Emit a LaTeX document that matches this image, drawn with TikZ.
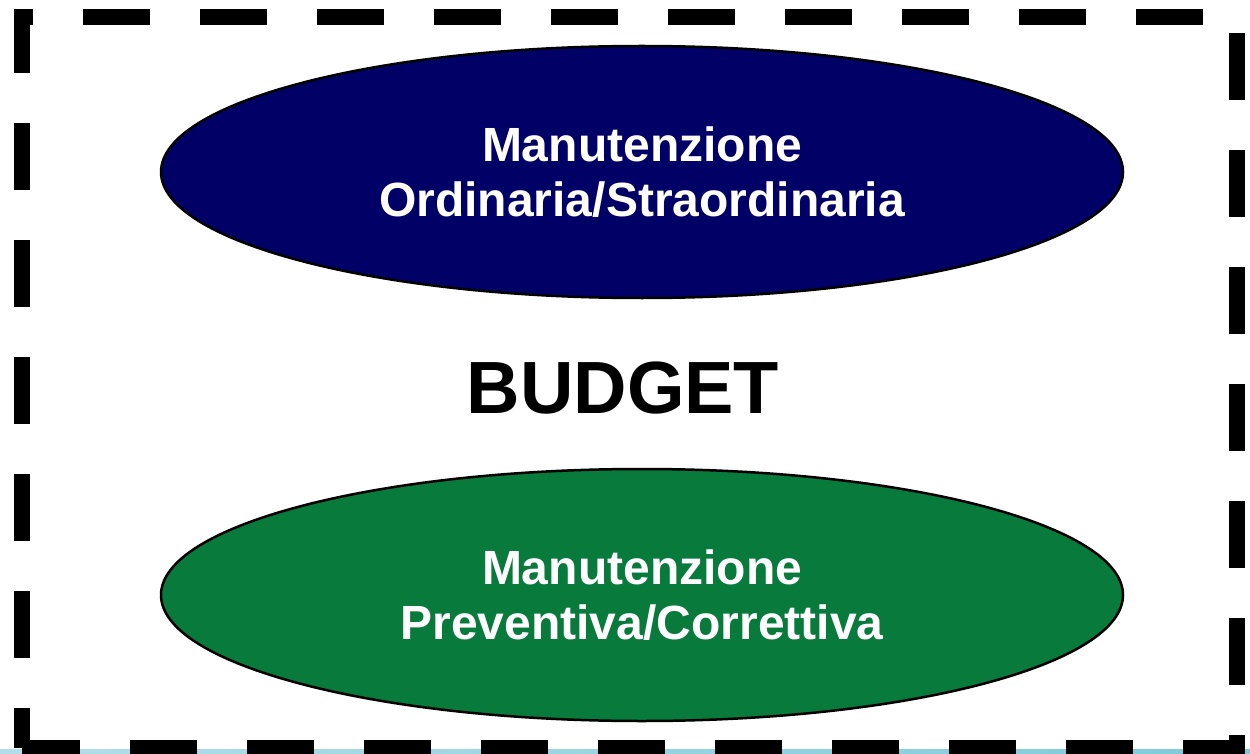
\documentclass[tikz,border=0pt]{standalone}
\usepackage{fontspec}
\setmainfont{Liberation Sans}
\usetikzlibrary{shapes.geometric}
\definecolor{navyfill}{RGB}{0,0,102}
\definecolor{greenfill}{RGB}{8,122,60}
\definecolor{stripleft}{RGB}{178,222,232}
\definecolor{stripright}{RGB}{126,202,218}
\tikzset{
  maint/.style={ellipse,draw=black,line width=2.5pt,minimum width=962pt,minimum height=252pt,
    inner sep=0pt,text=white,align=center,font=\bfseries\fontsize{48}{55}\selectfont},
}
\begin{document}
\begin{tikzpicture}[x=1pt,y=-1pt]
\useasboundingbox (0,0) rectangle (1250,754);
\shade[left color=stripleft,right color=stripright] (0,749) rectangle (1250,754);
\draw[line width=16pt,dash pattern=on 67pt off 50pt,dash phase=27pt] (22,748) -- (22,17) -- (1237,17) -- (1237,748) -- cycle;
\node[maint,fill=navyfill] (ordinaria) at (642,172) {Manutenzione\\Ordinaria/Straordinaria};
\node[maint,fill=greenfill] (preventiva) at (642,595) {Manutenzione\\Preventiva/Correttiva};
\node[font=\bfseries\fontsize{74}{88}\selectfont] (budget) at (623,388) {BUDGET};
\end{tikzpicture}
\end{document}
